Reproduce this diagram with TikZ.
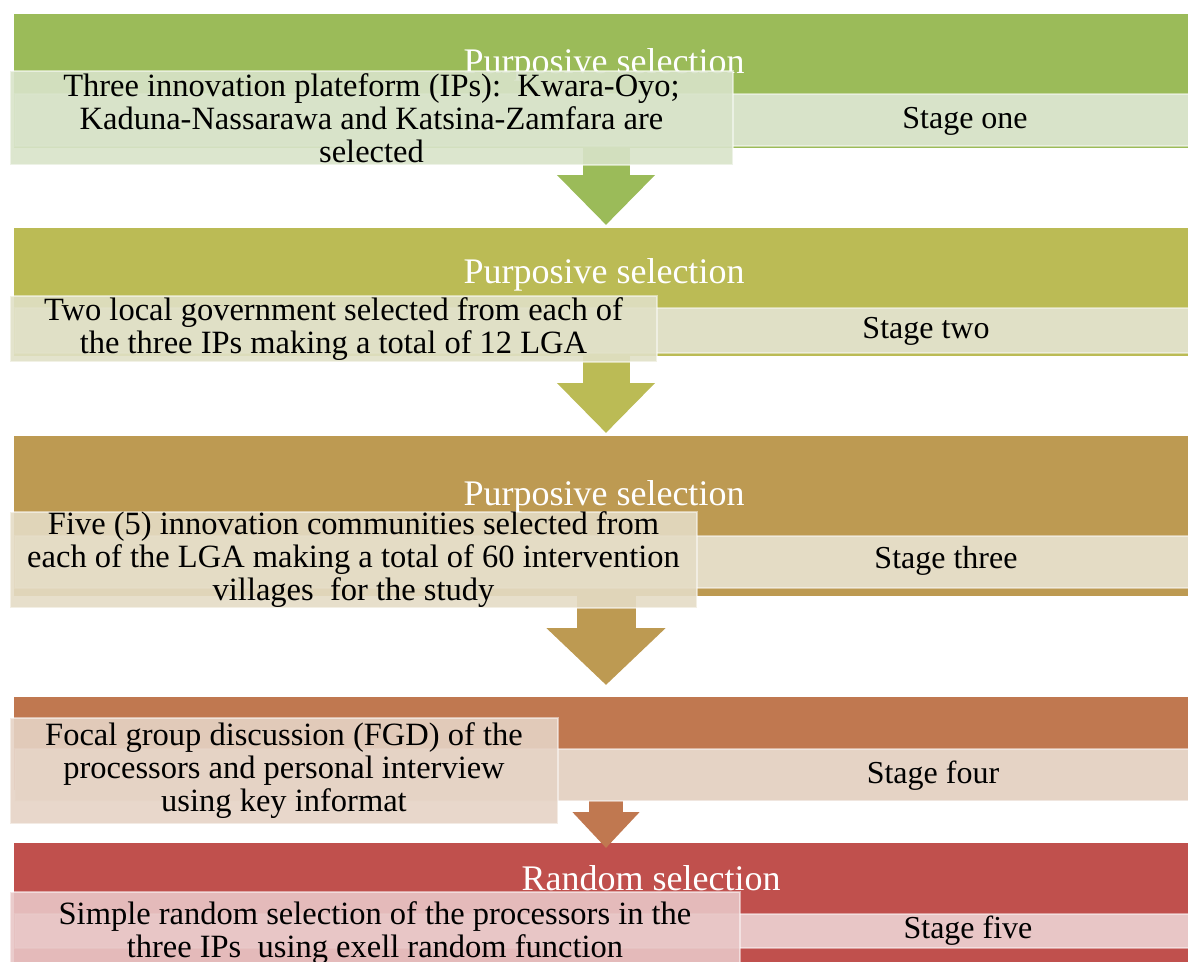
\documentclass[tikz,border=0pt]{standalone}
\usepackage{fontspec}
\setmainfont{Liberation Serif}
\usetikzlibrary{arrows.meta,positioning}

\definecolor{bandA}{HTML}{9BBB59}
\definecolor{bandB}{HTML}{BBBB55}
\definecolor{bandC}{HTML}{BD9A52}
\definecolor{bandD}{HTML}{C07850}
\definecolor{bandE}{HTML}{C0504D}
\definecolor{stripA}{HTML}{D8E3C9}
\definecolor{stripB}{HTML}{E0E0C6}
\definecolor{stripC}{HTML}{E4DCC5}
\definecolor{stripD}{HTML}{E5D3C5}
\definecolor{stripE}{HTML}{E8C6C6}

\begin{document}
\begin{tikzpicture}[x=1pt,y=-1pt,
  band/.style={fill=#1, minimum width=1174pt, anchor=north west, inner sep=0pt},
  strip/.style={fill=#1, draw=white, draw opacity=0.45, line width=2pt,
    minimum width=1174pt, anchor=north west, inner sep=0pt},
  infobox/.style={fill=#1, fill opacity=0.9, draw=white, draw opacity=0.5,
    line width=2.5pt, text opacity=1, inner sep=0pt, align=center,
    font=\fontsize{32.5}{33}\selectfont},
  title/.style={text=white, inner sep=0pt, font=\fontsize{36}{36}\selectfont},
  stagelabel/.style={inner sep=0pt, font=\fontsize{32}{32}\selectfont},
  flow/.style={draw=#1, line width=47pt, shorten >=3pt,
    -{Triangle[length=50pt,width=95pt]}}]
\clip (0,0) rectangle (1188,961);
\useasboundingbox (0,0) rectangle (1188,961);
\coordinate (col) at (606,0);

% coloured bands
\node[band=bandA, minimum height=134pt] (band1) at (14,14) {};
\node[band=bandB, minimum height=128pt] (band2) at (14,228) {};
\node[band=bandC, minimum height=160pt] (band3) at (14,436) {};
\node[band=bandD, minimum height=93pt] (band4) at (14,697) {};
\node[band=bandE, minimum height=130pt] (band5) at (14,843) {};

% arrows between the stages
\draw[flow=bandA] (band1.south -| col) -- (band2.north -| col);
\draw[flow=bandB] (band2.south -| col) -- (band3.north -| col);
\draw[draw=bandC, line width=59pt, shorten >=12pt,
  -{Triangle[length=57pt,width=116pt]}] (band3.south -| col) -- (band4.north -| col);
\draw[draw=bandD, line width=34pt, shorten >=-5pt,
  -{Triangle[length=36pt,width=65pt]}] (band4.south -| col) -- (band5.north -| col);

% light strips
\node[strip=stripA, minimum height=52pt] (strip1) at (14,93) {};
\node[strip=stripB, minimum height=45pt] (strip2) at (14,307) {};
\node[strip=stripC, minimum height=52pt] (strip3) at (14,535) {};
\node[strip=stripD, minimum height=52pt] (strip4) at (14,748) {};
\node[strip=stripE, minimum height=34pt] (strip5) at (14,913) {};

% titles
\node[title] (title1) at (604,65) {Purposive selection};
\node[title] (title2) at (604,275) {Purposive selection};
\node[title] (title3) at (604,497) {Purposive selection};
\node[title] (title5) at (651,878) {Random selection};

% text boxes
\node[infobox=stripA, minimum width=723pt, minimum height=94pt] (box1) at (371.5,118)
  {Three innovation plateform (IPs):\ \ Kwara-Oyo;\\Kaduna-Nassarawa and Katsina-Zamfara are\\selected};
\node[infobox=stripB, minimum width=647pt, minimum height=66pt] (box2) at (333.5,329)
  {Two local government selected from each of\\the three IPs making a total of 12 LGA};
\node[infobox=stripC, minimum width=687pt, minimum height=96pt] (box3) at (353.5,560)
  {Five (5) innovation communities selected from\\each of the LGA making a total of 60 intervention\\villages\ \ for the study};
\node[infobox=stripD, minimum width=548pt, minimum height=106pt] (box4) at (284,771)
  {Focal group discussion (FGD) of the\\processors and personal interview\\using key informat};
\node[infobox=stripE, minimum width=730pt, minimum height=82pt] (box5) at (375,933)
  {Simple random selection of the processors in the\\three IPs\ \ using exell random function};

% stage labels
\node[stagelabel] (stage1) at (965,121) {Stage one};
\node[stagelabel] (stage2) at (926,331) {Stage two};
\node[stagelabel] (stage3) at (946,561) {Stage three};
\node[stagelabel] (stage4) at (933,776) {Stage four};
\node[stagelabel] (stage5) at (968,931) {Stage five};
\end{tikzpicture}
\end{document}
